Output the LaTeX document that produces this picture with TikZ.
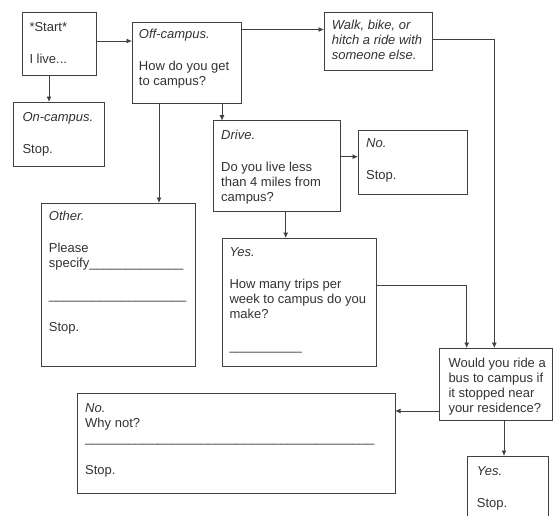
\documentclass[tikz,border=0pt]{standalone}
\usepackage{fontspec}
\setmainfont{Liberation Sans}
\usetikzlibrary{arrows.meta,calc}
\definecolor{ln}{HTML}{404040}
\definecolor{tx}{HTML}{333333}
\tikzset{
  box/.style={draw=ln, line width=0.9pt, anchor=north west, inner sep=0pt, outer sep=0pt},
  txt/.style={anchor=base west, inner sep=0pt, align=left, text=tx, font=\fontsize{13}{15}\selectfont},
  arr/.style={draw=ln, line width=0.9pt, -{Latex[length=5.5pt,width=5pt]}},
  ln/.style={draw=ln, line width=0.9pt}
}
\newcommand{\us}[1]{\foreach \i in {1,...,#1}{\_}}
\begin{document}
\begin{tikzpicture}[x=1pt,y=-1pt]
\clip (0,0) rectangle (553,515);
\fill[white] (0,0) rectangle (553,515);
% boxes
\node[box, minimum width=74.7pt, minimum height=63pt] (start) at (22,12) {};
\node[box, minimum width=91pt, minimum height=64pt] (oncampus) at (13,102) {};
\node[box, minimum width=109pt, minimum height=81pt] (off) at (132,22) {};
\node[box, minimum width=108.7pt, minimum height=58pt] (walk) at (324,12.7) {};
\node[box, minimum width=127.7pt, minimum height=91pt] (drive) at (213,120.7) {};
\node[box, minimum width=109pt, minimum height=64pt] (no1) at (358,130) {};
\node[box, minimum width=154pt, minimum height=163pt] (other) at (41.3,203) {};
\node[box, minimum width=154.4pt, minimum height=128pt] (yes) at (222.3,238) {};
\node[box, minimum width=112.7pt, minimum height=72pt] (bus) at (439.3,348) {};
\node[box, minimum width=317.7pt, minimum height=100pt] (whynot) at (77.3,393.3) {};
\node[box, minimum width=81pt, minimum height=80pt] (yesstop) at (467.3,456) {};
% texts (anchored at the baseline of their last line)
\node[txt] (tstart) at (29.3,63) {*Start*\\[17pt]I live...};
\node[txt] (ton) at (22.3,153) {\itshape On-campus.\\[17pt]Stop.};
\node[txt] (toff) at (138.7,85.3) {\itshape Off-campus.\\[17pt]How do you get\\to campus?};
\node[txt] (twalk) at (331.7,59.3) {\itshape Walk, bike, or\\\itshape hitch a ride with\\\itshape someone else.};
\node[txt] (tdrive) at (221,201.3) {\itshape Drive.\\[17pt]Do you live less\\than 4 miles from\\campus?};
\node[txt] (tno1) at (366,179.6) {\itshape No.\\[17pt]Stop.};
\node[txt] (tother) at (48.7,331) {\itshape Other.\\[17pt]Please\\specify\us{13}\\[17pt]\us{19}\\[17pt]Stop.};
\node[txt] (tyes) at (229.3,350.5) {\itshape Yes.\\[17pt]How many trips per\\week to campus do you\\make?\\[17pt]\us{10}};
\node[txt] (tbus) at (448.3,412.3) {Would you ride a\\bus to campus if\\it stopped near\\your residence?};
\node[txt] (twhy) at (85,474.3) {\itshape No.\\Why not?\\\us{40}\\[17pt]Stop.};
\node[txt] (tys) at (476.7,507.3) {\itshape Yes.\\[17pt]Stop.};
% connectors
\draw[arr] ([xshift=27pt]start.south west) -- ([xshift=27pt]start.south west |- oncampus.north);
\draw[arr] ([yshift=2.5pt]start.east) -- ([yshift=2.5pt]start.east -| off.west);
\draw[arr] ([yshift=-7.5pt]off.north east) -- ([yshift=-7.5pt]off.north east -| walk.west);
\draw[arr] ([xshift=27pt]off.south west) -- ([xshift=27pt]off.south west |- other.north);
\draw[arr] ([xshift=90pt]off.south west) -- ([xshift=90pt]off.south west |- drive.north);
\draw[arr] ([yshift=-36pt]drive.north east) -- ([yshift=-36pt]drive.north east -| no1.west);
\draw[arr] ([xshift=72.7pt]drive.south west) -- ([xshift=72.7pt]drive.south west |- yes.north);
\draw[arr] ([yshift=-47pt]yes.north east) -| ([xshift=27.4pt]bus.north west);
\draw[arr] ([yshift=-26.3pt]walk.north east) -| ([xshift=55pt]bus.north west);
\draw[arr] ([yshift=9pt]bus.south west) -- ([yshift=9pt]bus.south west -| whynot.east);
\draw[arr] ([xshift=64.7pt]bus.south west) -- ([xshift=64.7pt]bus.south west |- yesstop.north);
\end{tikzpicture}
\end{document}
